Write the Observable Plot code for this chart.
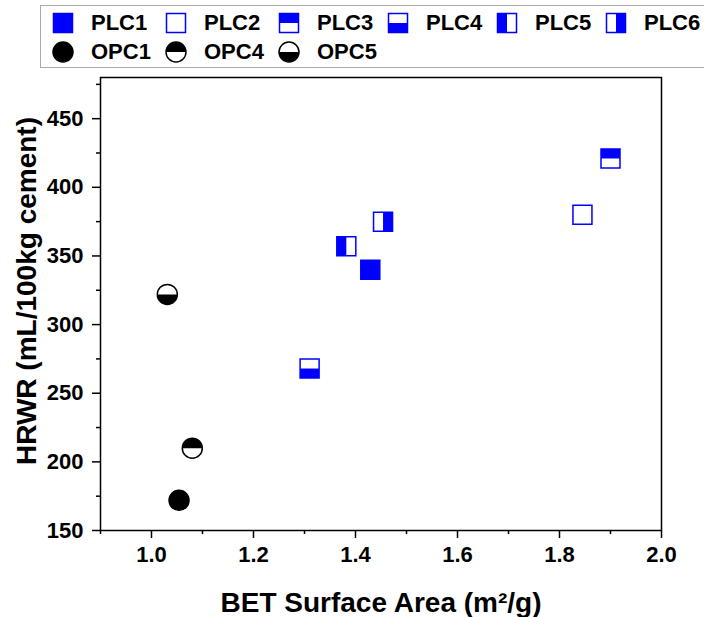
<!DOCTYPE html>
<html><head><meta charset="utf-8">
<script src="https://cdn.jsdelivr.net/npm/d3@7"></script>
<script src="https://cdn.jsdelivr.net/npm/@observablehq/plot@0.6"></script>
<style>
body{margin:0;background:#fff;width:704px;height:617px;overflow:hidden;font-family:"Liberation Sans",Arial,sans-serif;}
#legend{position:relative;height:70px;}
#legend .box{position:absolute;left:40px;top:5px;width:700px;height:63px;border:1.5px solid #aaa;box-sizing:border-box;}
#legend .item{position:absolute;height:24px;display:flex;align-items:center;font-weight:bold;font-size:22px;color:#000;}
#legend .item svg{display:block;margin-right:16px;}
#chart svg{display:block;}
</style></head><body>
<div id="legend"><div class="box"></div></div>
<div id="chart"></div>
<script>
// ---- data ----
const names  = ["PLC1", "PLC2", "PLC3", "PLC4", "PLC5", "PLC6", "OPC1", "OPC4", "OPC5"];
const betArea = [1.429, 1.845, 1.900, 1.310, 1.382, 1.454, 1.054, 1.080, 1.031];
const hrwr    = [340,   380,   421,   268,   357,   375,   172,   210,   322];
const xTicks = [1.0, 1.2, 1.4, 1.6, 1.8, 2.0];
const xMinor = [0.9, 1.1, 1.3, 1.5, 1.7, 1.9];
const yTicks = [150, 200, 250, 300, 350, 400, 450];
const yMinor = [175, 225, 275, 325, 375, 425, 475];
const xLabel = "BET Surface Area (m²/g)";
const yLabel = "HRWR (mL/100kg cement)";

// ---- marker styles (shape + which part is filled) ----
const markerStyle = {
  PLC1: {shape: "square", part: "full"},
  PLC2: {shape: "square", part: "none"},
  PLC3: {shape: "square", part: "top"},
  PLC4: {shape: "square", part: "bottom"},
  PLC5: {shape: "square", part: "left"},
  PLC6: {shape: "square", part: "right"},
  OPC1: {shape: "circle", part: "full"},
  OPC4: {shape: "circle", part: "top"},
  OPC5: {shape: "circle", part: "bottom"}
};
const shapeColor = {square: "#0000ff", circle: "#000000"};

function squareSym(part) {
  return {draw(ctx, size) {
    const r = Math.sqrt(size / Math.PI);
    if (part === "full") ctx.rect(-r, -r, 2 * r, 2 * r);
    else if (part === "top") ctx.rect(-r, -r, 2 * r, r);
    else if (part === "bottom") ctx.rect(-r, 0, 2 * r, r);
    else if (part === "left") ctx.rect(-r, -r, r, 2 * r);
    else if (part === "right") ctx.rect(0, -r, r, 2 * r);
  }};
}
function circleSym(part) {
  return {draw(ctx, size) {
    const r = Math.sqrt(size / Math.PI);
    if (part === "full") { ctx.moveTo(r, 0); ctx.arc(0, 0, r, 0, 2 * Math.PI); }
    else if (part === "top") { ctx.moveTo(r, 0); ctx.arc(0, 0, r, 0, Math.PI, true); ctx.closePath(); }
    else if (part === "bottom") { ctx.moveTo(r, 0); ctx.arc(0, 0, r, 0, Math.PI, false); ctx.closePath(); }
  }};
}
function sym(shape, part) { return shape === "square" ? squareSym(part) : circleSym(part); }
const markerR = {square: 9.5, circle: 10};

const rows = names.map((n, i) => ({name: n, x: betArea[i], y: hrwr[i]}));

// ---- marks ----
const pointMarks = [];
for (const d of rows) {
  const st = markerStyle[d.name];
  const col = shapeColor[st.shape];
  const r = markerR[st.shape];
  pointMarks.push(Plot.dot([d], {x: "x", y: "y", r, symbol: sym(st.shape, "full"), fill: "white", stroke: "none"}));
  if (st.part !== "none")
    pointMarks.push(Plot.dot([d], {x: "x", y: "y", r, symbol: sym(st.shape, st.part), fill: col, stroke: "none"}));
  pointMarks.push(Plot.dot([d], {x: "x", y: "y", r, symbol: sym(st.shape, "full"), fill: "none", stroke: col, strokeWidth: 1.5}));
}

const tickFont = {fontSize: 22, fontWeight: "bold"};
const chart = Plot.plot({
  width: 704,
  height: 547,
  marginTop: 7,
  marginBottom: 87,
  marginLeft: 100,
  marginRight: 43,
  style: {fontFamily: "'Liberation Sans', Arial, sans-serif", color: "black", background: "white"},
  x: {domain: [0.9, 2.0]},
  y: {domain: [150, 480]},
  marks: [
    Plot.frame({stroke: "black", strokeWidth: 1.5}),
    Plot.axisX(xTicks, {tickSize: 8, tickPadding: 8, strokeWidth: 1.5, tickFormat: d3.format(".1f"), label: null, ...tickFont}),
    Plot.axisX(xMinor, {tickSize: 4, strokeWidth: 1.5, fill: "none", label: null}),
    Plot.axisY(yTicks, {tickSize: 8, tickPadding: 9, strokeWidth: 1.5, tickFormat: d3.format("d"), label: null, ...tickFont}),
    Plot.axisY(yMinor, {tickSize: 4, strokeWidth: 1.5, fill: "none", label: null}),
    Plot.text([xLabel], {text: d => d, frameAnchor: "bottom", dy: 73, lineAnchor: "middle", fontSize: 28, fontWeight: "bold", fill: "black"}),
    Plot.text([yLabel], {text: d => d, frameAnchor: "left", rotate: -90, dx: -73, dy: -13, lineAnchor: "middle", textAnchor: "middle", fontSize: 28, fontWeight: "bold", fill: "black"}),
    ...pointMarks
  ]
});
document.getElementById("chart").appendChild(chart);

// ---- legend (HTML, above the SVG) ----
const legendRows = [names.filter(n => n.startsWith("PLC")), names.filter(n => n.startsWith("OPC"))];
const legendCols = [63, 176, 289, 398, 507, 616];   // marker centres (layout)
const legendRowY = [22.5, 51.5];
const legend = d3.select("#legend");
legendRows.forEach((row, ri) => {
  row.forEach((name, ci) => {
    const st = markerStyle[name];
    const col = shapeColor[st.shape];
    const r = markerR[st.shape];
    const size = r * r * Math.PI;
    const item = legend.append("div").attr("class", "item")
      .style("left", (legendCols[ci] - 12) + "px")
      .style("top", (legendRowY[ri] - 12) + "px");
    const svg = item.append("svg").attr("width", 24).attr("height", 24);
    const g = svg.append("g").attr("transform", "translate(12,12)");
    g.append("path").attr("d", d3.symbol(sym(st.shape, "full"), size)()).attr("fill", "white");
    if (st.part !== "none") g.append("path").attr("d", d3.symbol(sym(st.shape, st.part), size)()).attr("fill", col);
    g.append("path").attr("d", d3.symbol(sym(st.shape, "full"), size)()).attr("fill", "none").attr("stroke", col).attr("stroke-width", 1.5);
    item.append("span").text(name);
  });
});
</script>
</body></html>
